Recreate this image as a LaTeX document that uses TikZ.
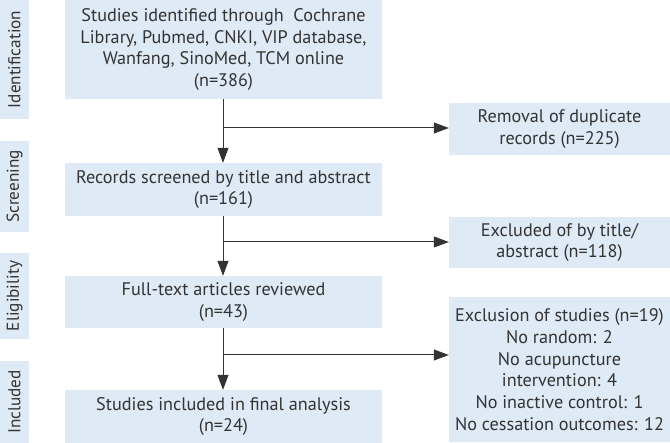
\documentclass[tikz,border=0pt]{standalone}
\usepackage{fontspec}
\setmainfont{PT Sans}
\usetikzlibrary{arrows.meta}
\definecolor{boxblue}{HTML}{DEEAF6}
\definecolor{ink}{HTML}{333333}
\tikzset{
    flowbox/.style={fill=boxblue, draw=none, text=ink, align=center, inner sep=0pt,
        font=\fontsize{18.2}{21.7}\selectfont},
    sidebox/.style={fill=boxblue, draw=none, text=ink, rotate=90, inner sep=0pt,
        minimum height=29pt, font=\fontsize{17.2}{19}\selectfont},
    arr/.style={draw=ink, line width=1pt, -{Triangle[length=15pt,width=11pt]}},
    plain/.style={draw=ink, line width=1pt}
}
\begin{document}
\begin{tikzpicture}[x=1pt,y=-1pt]
    \useasboundingbox (0,0) rectangle (670,443);
    % stage labels
    \node[sidebox, minimum width=119pt] (sid) at (14.5,59.5) {Identification};
    \node[sidebox, minimum width=91pt] (sscr) at (14.5,186.5) {Screening};
    \node[sidebox, minimum width=86pt] (selig) at (14.5,296) {Eligibility};
    \node[sidebox, minimum width=82pt] (sinc) at (14.5,402) {Included};
    % main column
    \node[flowbox, minimum width=317pt, minimum height=99pt] (ident) at (223.5,49.5)
        {Studies identified through~ Cochrane\\Library, Pubmed, CNKI, VIP database,\\Wanfang, SinoMed, TCM online\\(n=386)};
    \node[flowbox, minimum width=317pt, minimum height=53pt] (screen) at (223.5,189.5)
        {Records screened by title and abstract\\(n=161)};
    \node[flowbox, minimum width=317pt, minimum height=52pt] (full) at (223.5,302)
        {Full-text articles reviewed\\(n=43)};
    \node[flowbox, minimum width=317pt, minimum height=53pt] (incl) at (223.5,416.5)
        {Studies included in final analysis\\(n=24)};
    % right column
    \node[flowbox, minimum width=221pt, minimum height=52pt] (dup) at (559.5,129)
        {Removal of duplicate\\records (n=225)};
    \node[flowbox, minimum width=221pt, minimum height=51pt] (excl) at (559.5,242.5)
        {Excluded of by title/\\abstract (n=118)};
    \node[flowbox, minimum width=221pt, minimum height=145pt] (excst) at (559.5,369.5)
        {Exclusion of studies (n=19)\\No random: 2\\No acupuncture\\intervention: 4\\No inactive control: 1\\No cessation outcomes: 12};
    % branch points
    \coordinate (b1) at (223,128);
    \coordinate (b2) at (223,242);
    \coordinate (b3) at (223,355);
    % connectors
    \draw[arr] (ident.south -| b1) -- (screen.north -| b1);
    \draw[arr] (screen.south -| b2) -- (full.north -| b2);
    \draw[arr] (full.south -| b3) -- (incl.north -| b3);
    \draw[arr] (b1) -- (dup.west |- b1);
    \draw[arr] (b2) -- (excl.west |- b2);
    \draw[arr] (b3) -- (excst.west |- b3);
\end{tikzpicture}
\end{document}
